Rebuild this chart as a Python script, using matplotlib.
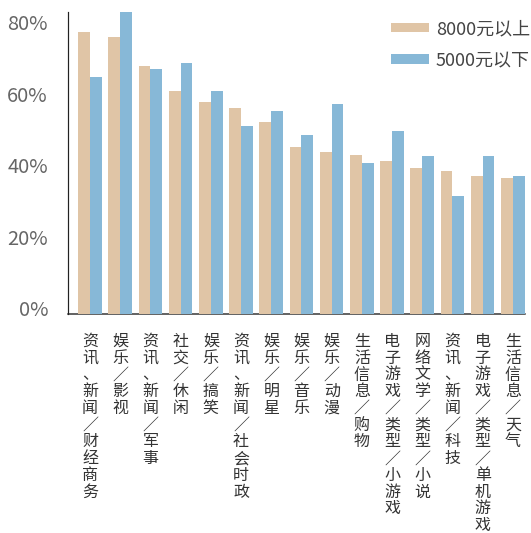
import matplotlib
matplotlib.use("Agg")
import matplotlib.pyplot as plt
import matplotlib.transforms as mtransforms
import numpy as np

plt.rcParams['font.family'] = ['Noto Sans CJK SC', 'DejaVu Sans']
plt.rcParams['font.weight'] = 'light'

categories = [
    "资讯、新闻／财经商务", "娱乐／影视", "资讯、新闻／军事", "社交／休闲",
    "娱乐／搞笑", "资讯、新闻／社会时政", "娱乐／明星", "娱乐／音乐",
    "娱乐／动漫", "生活信息／购物", "电子游戏／类型／小游戏", "网络文学／类型／小说",
    "资讯、新闻／科技", "电子游戏／类型／单机游戏", "生活信息／天气",
]
high_income = [78.9, 77.5, 69.4, 62.4, 59.3, 57.6, 53.7, 46.7, 45.3, 44.5, 42.8, 40.8, 40.0, 38.6, 38.0]
low_income = [66.3, 84.6, 68.5, 70.2, 62.4, 52.6, 56.8, 50.1, 58.7, 42.2, 51.2, 44.2, 33.0, 44.2, 38.6]
series_names = ["8000元以上", "5000元以下"]
yticks = [0, 20, 40, 60, 80]

beige = "#E0C5A6"
blue = "#87B8D7"

W, H = 531, 533
fig = plt.figure(figsize=(W / 72, H / 72), dpi=72)
ax = fig.add_axes([68 / W, (H - 314) / H, (W - 68) / W, (314 - 12) / H])

x = np.arange(len(categories))
bw = 0.39
ax.bar(x - bw / 2, high_income, width=bw, color=beige, label=series_names[0], zorder=2)
ax.bar(x + bw / 2, low_income, width=bw, color=blue, label=series_names[1], zorder=2)

ax.set_xlim(-0.73, 14.6)
ax.set_ylim(0, 84.5)

for s in ["top", "right"]:
    ax.spines[s].set_visible(False)
ax.spines["left"].set_color("#222222")
ax.spines["left"].set_linewidth(1.2)
ax.spines["bottom"].set_color("#333333")
ax.spines["bottom"].set_linewidth(1.5)
ax.spines["bottom"].set_bounds(-0.73, 14.4)
ax.spines["bottom"].set_zorder(1)

ax.set_yticks(yticks)
ax.set_yticklabels([f"{v}%" for v in yticks])
ax.tick_params(axis="y", length=0, pad=20, labelsize=20, labelcolor="#666666")
ax.set_xticks([])

# nudge the y labels up a little
shift = mtransforms.ScaledTranslation(0, 6 / 72, fig.dpi_scale_trans)
for lbl in ax.get_yticklabels():
    lbl.set_transform(lbl.get_transform() + shift)

# category names written top-to-bottom under each group
for i, name in enumerate(categories):
    ax.annotate("\n".join(name), xy=(i, 0), xycoords=("data", "axes fraction"),
                xytext=(0, -19), textcoords="offset points",
                ha="center", va="top", fontsize=16, color="#333333",
                linespacing=0.98)

ax.legend(loc="upper right", bbox_to_anchor=(530 / W, (H - 20) / H),
          bbox_transform=fig.transFigure, frameon=False, fontsize=18,
          handlelength=2.1, handleheight=0.45, handletextpad=0.4,
          labelspacing=0.75, borderpad=0, borderaxespad=0,
          labelcolor="#444444")

fig.savefig("out.png", dpi=72)
